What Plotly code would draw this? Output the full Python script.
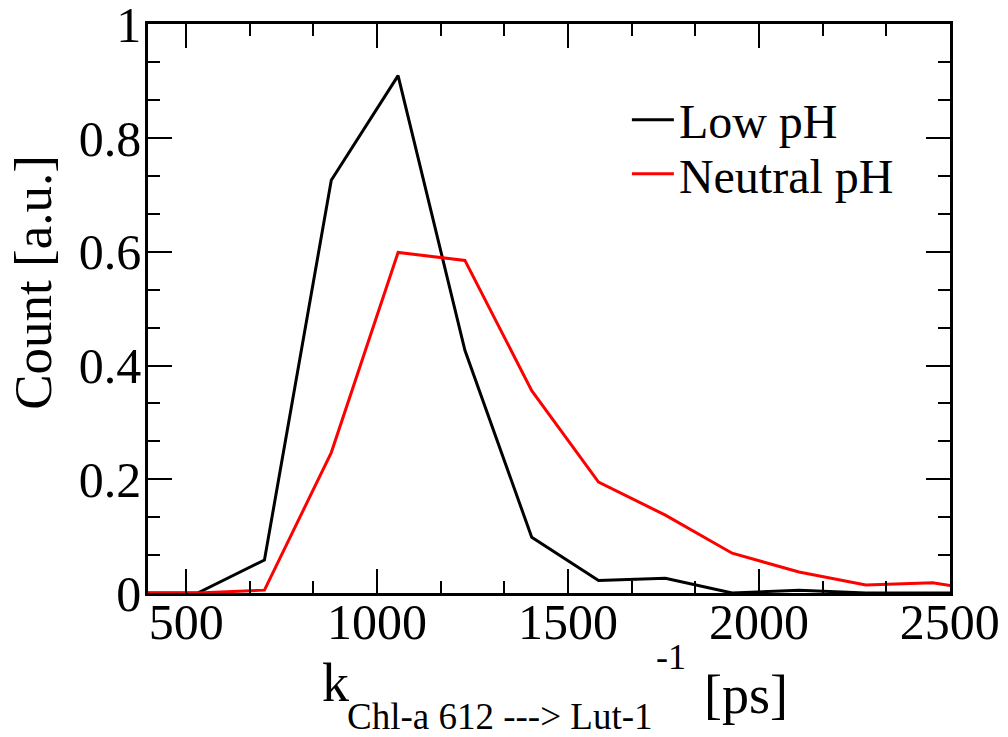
import plotly.graph_objects as go

# Data
bin_centers = [355, 530, 705, 880, 1055, 1230, 1405, 1580, 1755, 1930, 2105, 2280, 2455, 2630]
low_ph = [0.0, 0.0, 0.058, 0.726, 0.910, 0.427, 0.098, 0.022, 0.026, 0.0, 0.005, 0.0, 0.0, 0.0]
neutral_ph = [0.0, 0.0, 0.005, 0.247, 0.599, 0.585, 0.356, 0.195, 0.137, 0.070, 0.037, 0.014, 0.018, 0.0]
x_ticks = [500, 1000, 1500, 2000, 2500]
y_ticks = [0, 0.2, 0.4, 0.6, 0.8, 1]
y_tick_text = ["0", "0.2", "0.4", "0.6", "0.8", "1"]

FONT = "Liberation Serif, Times New Roman, serif"

# plot area in pixels (for placing annotation pieces)
L, R, T, B = 148.3, 950.0, 24.0, 592.7
def px(x):
    return (x - L) / (R - L)
def py(y):
    return (B - y) / (B - T)

fig = go.Figure()
fig.add_trace(go.Scatter(x=bin_centers, y=low_ph, mode="lines", name="Low pH",
                         line=dict(color="#000000", width=3), legend="legend", showlegend=True))
fig.add_trace(go.Scatter(x=bin_centers, y=neutral_ph, mode="lines", name="Neutral pH",
                         line=dict(color="#ff0000", width=3), legend="legend2", showlegend=True))

axis_common = dict(
    showgrid=False, zeroline=False, showline=True, linecolor="black", linewidth=2.7,
    mirror="ticks", ticks="inside", ticklen=24, tickwidth=2, tickcolor="black",
    tickfont=dict(family=FONT, size=50, color="black"), ticklabeloverflow="allow",
    automargin=False,
)

fig.update_xaxes(range=[400, 2500.5], tickvals=x_ticks, ticktext=[str(v) for v in x_ticks],
                 minor=dict(ticks="inside", ticklen=12, tickwidth=2, tickcolor="black",
                            tick0=500, dtick=500/3),
                 ticklabelstandoff=-17,
                 **axis_common)
fig.update_yaxes(range=[0, 1.0008], tickvals=y_ticks, ticktext=y_tick_text,
                 minor=dict(ticks="inside", ticklen=12, tickwidth=2, tickcolor="black",
                            tick0=0, dtick=0.2/3),
                 ticklabelstandoff=-6,
                 **axis_common)

ann_font = lambda s: dict(family=FONT, size=s, color="black")
# y axis title
fig.add_annotation(text="Count [a.u.]", textangle=-90, xref="paper", yref="paper",
                   x=px(33), y=py(282), xanchor="center", yanchor="middle", showarrow=False,
                   font=ann_font(53))
# x axis title built from pieces: k_{Chl-a 612 ---> Lut-1}^{-1} [ps]
fig.add_annotation(text="k", xref="paper", yref="paper", x=px(320), y=py(683),
                   xanchor="left", yanchor="middle", showarrow=False, font=ann_font(54))
fig.add_annotation(text="Chl-a 612 ---&gt; Lut-1", xref="paper", yref="paper", x=px(345), y=py(716),
                   xanchor="left", yanchor="middle", showarrow=False, font=ann_font(37))
fig.add_annotation(text="-1", xref="paper", yref="paper", x=px(654), y=py(657),
                   xanchor="left", yanchor="middle", showarrow=False, font=ann_font(36))
fig.add_annotation(text="[ps]", xref="paper", yref="paper", x=px(702), y=py(695),
                   xanchor="left", yanchor="middle", showarrow=False, font=ann_font(54))

leg_common = dict(xanchor="left", yanchor="middle", itemwidth=42,
                  font=dict(family=FONT, size=48, color="black"),
                  bgcolor="rgba(0,0,0,0)", borderwidth=0)
fig.update_layout(
    width=1008, height=737,
    margin=dict(l=148, r=58, t=24, b=144, autoexpand=False),
    paper_bgcolor="white", plot_bgcolor="white",
    showlegend=True,
    legend=dict(x=px(627), y=py(120), **leg_common),
    legend2=dict(x=px(627), y=py(174), **leg_common),
)

fig.write_html("out.html")
